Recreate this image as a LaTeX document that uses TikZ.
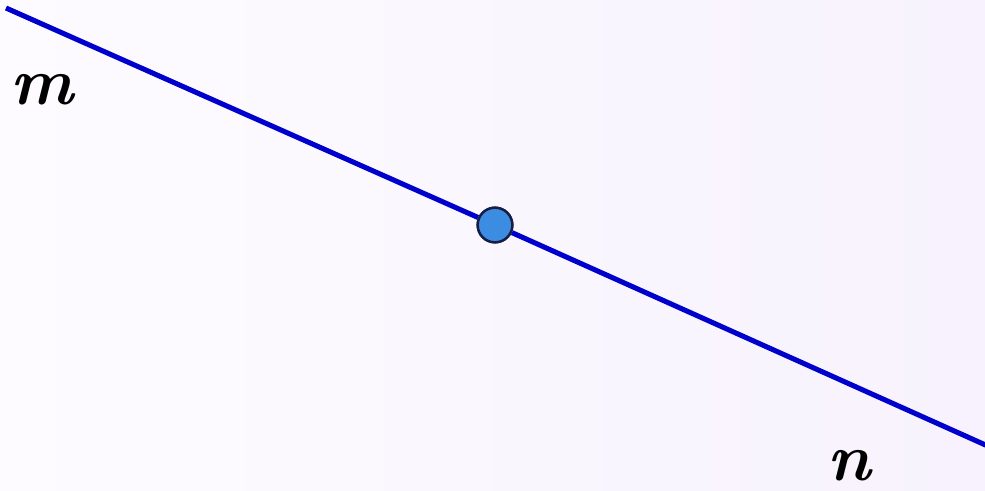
\documentclass[tikz,border=0pt]{standalone}
\usetikzlibrary{shadings}
\definecolor{linecol}{RGB}{0,0,205}
\definecolor{ptfill}{RGB}{60,140,225}
\definecolor{ptedge}{RGB}{20,30,70}
\definecolor{bgA}{RGB}{253,251,255}
\definecolor{bgB}{RGB}{247,242,253}
\tikzset{
  lbl/.style={font=\fontsize{50}{50}\selectfont\bfseries\itshape, inner sep=0pt, anchor=base},
  pt/.style={circle, draw=ptedge, line width=1.8pt, fill=ptfill, minimum size=26pt, inner sep=0pt},
  ln/.style={draw=linecol, line width=3.8pt}
}
\begin{document}
\begin{tikzpicture}[x=0.75pt,y=-0.75pt]
\useasboundingbox (0,0) rectangle (985,490);
\shade[shading angle=45, left color=bgA, right color=bgB] (0,0) rectangle (985,490);
\coordinate (m1) at (6,8);
\coordinate (n1) at (990,447);
\node[pt] (P) at (495,225) {};
\draw[ln] (m1) -- (P);
\draw[ln] (P) -- (n1);
\node[pt] at (P) {};
\node[lbl] (m) at (42,104) {m};
\node[lbl] (n) at (849,480) {n};
\end{tikzpicture}
\end{document}
